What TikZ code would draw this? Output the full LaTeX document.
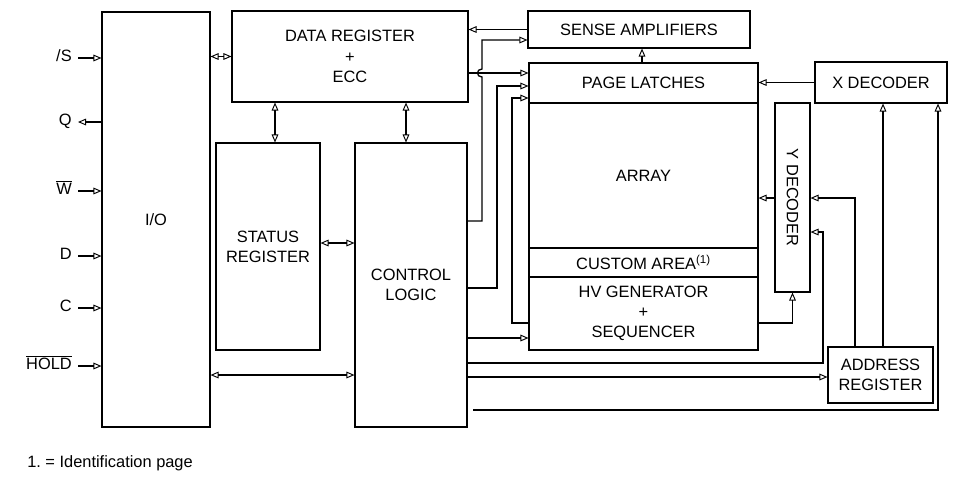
\documentclass[tikz,border=0pt]{standalone}
\usepackage{graphicx}
\usepackage{fontspec}
\setmainfont{Liberation Sans}
\usetikzlibrary{arrows.meta, positioning, calc}

\tikzset{
	blk/.style={draw, line width=0.8pt, align=center, inner sep=0pt},
	sz/.style 2 args={minimum width=#1*0.75pt, minimum height=#2*0.75pt},
	wire/.style={line width=1pt},
	siglbl/.style={anchor=mid east, inner sep=0pt, inner xsep=4.5pt}
}

\begin{document}
\begin{tikzpicture}[x=0.75pt, y=-0.75pt, >={Triangle[open, length=6pt, width=5pt, line width=0.7pt]},
	every node/.style={font=\fontsize{12.3}{15.2}\selectfont}]
	
	\useasboundingbox (0,0) rectangle (973,480);
	
	%//blocks
	\node[blk, sz={108}{415}] (io) at (156,219.5) {I/O};
	\node[blk, sz={236}{91}] (dreg) at (350,56.5) {DATA REGISTER\\+\\ECC};
	\node[blk, sz={104}{207}] (sreg) at (268,246.5) {STATUS\\REGISTER};
	\node[blk, sz={112}{284}] (ctrl) at (411,285) {CONTROL\\LOGIC};
	\node[blk, sz={222}{37}] (sense) at (639,29.5) {SENSE AMPLIFIERS};
	\node[blk, sz={229}{40}] (latch) at (643.5,83) {PAGE LATCHES};
	\node[blk, sz={229}{145}] (array) at (643.5,175.5) {ARRAY};
	\node[blk, sz={229}{29}] (custom) at (643.5,262.5) {CUSTOM AREA\textsuperscript{(1)}};
	\node[blk, sz={229}{73}] (hv) at (643.5,313.5) {HV GENERATOR\\+\\SEQUENCER};
	\node[blk, sz={35}{189}] (ydec) at (792.5,197.5) {\rotatebox{-90}{Y DECODER}};
	\node[blk, sz={132}{41}] (xdec) at (881,82.5) {X DECODER};
	\node[blk, sz={105}{56}] (areg) at (880.5,375) {ADDRESS\\REGISTER};
	
	%//pins
	\foreach \n/\t/\y in {ss/{/S}/58, w/{$\overline{\hbox{W}}$}/191, d/D/256, c/C/308, hold/{$\overline{\hbox{HOLD}}$}/366}{
		\node[siglbl] (\n) at (78,\y) {\t};
		\draw[wire,->] (\n.mid east) -- (\n.mid east -| io.west);
	}
	\node[siglbl] (q) at (78,122) {Q};
	\draw[wire,->] (q.mid east -| io.west) -- (q.mid east);
	
	%//left side
	\draw[wire,<->] (io.east |- dreg.west) -- (dreg.west);
	\draw[wire,<->] (275,0 |- dreg.south) -- (275,0 |- sreg.north);
	\draw[wire,<->] (406,0 |- dreg.south) -- (406,0 |- ctrl.north);
	\draw[wire,<->] (sreg.east |- 0,243) -- (ctrl.west |- 0,243);
	\draw[wire,<->] (io.east |- 0,375) -- (ctrl.west |- 0,375);
	
	%//array side
	\draw[wire,->] (sense.west) -- (sense.west -| dreg.east);
	\draw[wire,->] (ctrl.east |- 0,221) -- (482,221) -- (482,77) .. controls (476,77) and (476,69) .. (482,69) -- (482,40) -- (sense.west |- 0,40);
	\draw[wire,->] (dreg.east |- 0,73) -- (latch.west |- 0,73);
	\draw[wire,->] (ctrl.east |- 0,288) -| (497,86) -- (latch.west |- 0,86);
	\draw[wire,->] (hv.west |- 0,323) -| (512,98) -- (latch.west |- 0,98);
	\draw[wire,->] (ctrl.east |- 0,338) -- (hv.west |- 0,338);
	\draw[wire,->] (ctrl.east |- 0,363) -| (823,232) -- (ydec.east |- 0,232);
	\draw[wire,->] (ctrl.east |- 0,377) -- (areg.west |- 0,377);
	\coordinate (busend) at (473,410);
	\draw[wire,->] (busend) -| (938,0 |- xdec.south);
	
	%//decoders
	\draw[wire,->] (642,0 |- latch.north) -- (642,0 |- sense.south);
	\draw[wire,->] (xdec.west) -- (xdec.west -| latch.east);
	\draw[wire,->] (ydec.west |- 0,198) -- (array.east |- 0,198);
	\draw[wire,->] (hv.east |- 0,323) -| (ydec.south);
	\draw[wire,->] (855,0 |- areg.north) |- (ydec.east |- 0,198);
	\draw[wire,->] (883,0 |- areg.north) -- (883,0 |- xdec.south);
	
	\node[anchor=west, inner sep=0pt] (note) at (27,463) {1.\ = Identification page};
\end{tikzpicture}
\end{document}
